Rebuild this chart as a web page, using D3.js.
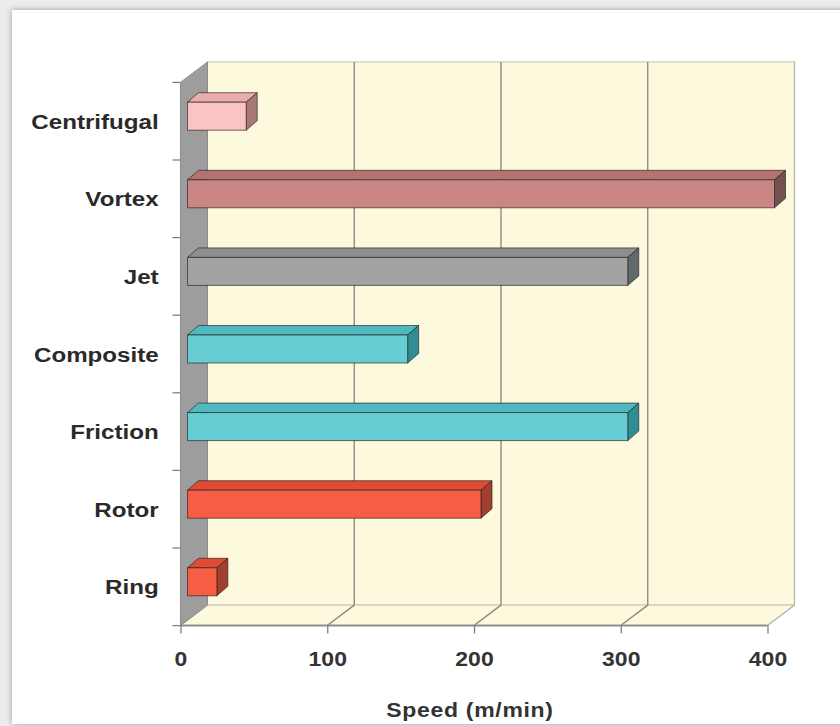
<!DOCTYPE html>
<html>
<head>
<meta charset="utf-8">
<script src="https://cdn.jsdelivr.net/npm/d3@7"></script>
<style>
  html, body { margin: 0; padding: 0; background: #ececec; }
  svg { display: block; }
</style>
</head>
<body>
<svg id="chart" width="840" height="726"></svg>
<script>
// Spinning technologies and their delivery speeds
const categories = ["Centrifugal", "Vortex", "Jet", "Composite", "Friction", "Rotor", "Ring"];
const speeds = [40, 400, 300, 150, 300, 200, 20];
const xTicks = [0, 100, 200, 300, 400];
const axisTitle = "Speed (m/min)";

// front / top / side shading for each bar
const frontColors = ["#f9c4c1", "#c98683", "#a3a3a3", "#66cdd4", "#66cdd4", "#f55d44", "#f55d44"];
const topColors   = ["#e9adab", "#b37371", "#8e8e8e", "#4fb9c1", "#4fb9c1", "#df4b34", "#df4b34"];
const sideColors  = ["#a77a79", "#74504f", "#5f6a6b", "#2f8d94", "#2f8d94", "#a23f2f", "#a23f2f"];

const svg = d3.select("#chart");

// panel with soft drop shadow
const defs = svg.append("defs");
const sh = defs.append("filter").attr("id", "shadow")
  .attr("x", "-5%").attr("y", "-5%").attr("width", "110%").attr("height", "110%");
sh.append("feGaussianBlur").attr("in", "SourceAlpha").attr("stdDeviation", 3).attr("result", "b");
sh.append("feOffset").attr("in", "b").attr("dx", 0).attr("dy", 0).attr("result", "o");
sh.append("feComponentTransfer").attr("in", "o").attr("result", "s")
  .append("feFuncA").attr("type", "linear").attr("slope", 0.35);
const mg = sh.append("feMerge");
mg.append("feMergeNode").attr("in", "s");
mg.append("feMergeNode").attr("in", "SourceGraphic");

svg.append("rect").attr("x", 12).attr("y", 10).attr("width", 860).attr("height", 714)
  .attr("fill", "#ffffff").attr("filter", "url(#shadow)");

// scales (front plane)
const x = d3.scaleLinear().domain([0, 400]).range([180.5, 767.5]);
const y = d3.scaleBand().domain(categories).range([82.4, 625.6]).padding(0);
const depth = { dx: 27, dy: -20.5 };       // full depth of the box
const faceOff = { dx: 7, dy: -5 };          // bar front face offset from front plane
const barDepth = { dx: 11, dy: -9.5 };      // bar thickness in depth
const barH = 28;

const y0 = y.range()[0], y1 = y.range()[1];
const xL = x(0), xR = x(400);

const wallFill = "#fdf9dc";
const g = svg.append("g");

// back wall
g.append("rect")
  .attr("x", xL + depth.dx).attr("y", y0 + depth.dy)
  .attr("width", xR - xL).attr("height", y1 - y0)
  .attr("fill", wallFill).attr("stroke", "#c4c4bc").attr("stroke-width", 1);

// floor
g.append("path")
  .attr("d", `M${xL},${y1} L${xR},${y1} L${xR + depth.dx},${y1 + depth.dy} L${xL + depth.dx},${y1 + depth.dy} Z`)
  .attr("fill", wallFill).attr("stroke", "#c4c4bc").attr("stroke-width", 1);

// left wall
g.append("path")
  .attr("d", `M${xL},${y0} L${xL + depth.dx},${y0 + depth.dy} L${xL + depth.dx},${y1 + depth.dy} L${xL},${y1} Z`)
  .attr("fill", "#9d9d9d").attr("stroke", "#8a8a8a").attr("stroke-width", 1);

// grid lines on back wall and floor
xTicks.slice(1).forEach(t => {
  const xb = x(t) + depth.dx;
  g.append("path")
    .attr("d", `M${xb},${y0 + depth.dy} L${xb},${y1 + depth.dy} L${x(t)},${y1}`)
    .attr("fill", "none")
    .attr("stroke", t === 400 ? "#b8b8b0" : "#858580")
    .attr("stroke-width", 1.3);
});

// floor front edge
g.append("line")
  .attr("x1", xL).attr("x2", xR).attr("y1", y1).attr("y2", y1)
  .attr("stroke", "#8f8f8a").attr("stroke-width", 2);

// left axis boundary ticks
const bounds = categories.map(c => y(c)).concat([y1]);
g.selectAll(".ytick").data(bounds).join("line")
  .attr("x1", xL - 8).attr("x2", xL).attr("y1", d => d).attr("y2", d => d)
  .attr("stroke", "#808080").attr("stroke-width", 1.3);

// bars
const bars = g.append("g").selectAll("g").data(categories).join("g");
bars.each(function (c, i) {
  const v = speeds[i];
  const xa = x(0) + faceOff.dx;
  const xb = x(v) + faceOff.dx;
  const yt = y(c) + y.bandwidth() / 2 - barH / 2 + faceOff.dy;
  const yb = yt + barH;
  const bx = barDepth.dx, by = barDepth.dy;
  const sel = d3.select(this);
  const stroke = "rgba(40,30,30,0.65)";
  sel.append("path")
    .attr("d", `M${xa},${yt} L${xb},${yt} L${xb + bx},${yt + by} L${xa + bx},${yt + by} Z`)
    .attr("fill", topColors[i]).attr("stroke", stroke).attr("stroke-width", 1);
  sel.append("path")
    .attr("d", `M${xb},${yt} L${xb + bx},${yt + by} L${xb + bx},${yb + by} L${xb},${yb} Z`)
    .attr("fill", sideColors[i]).attr("stroke", stroke).attr("stroke-width", 1);
  sel.append("rect")
    .attr("x", xa).attr("y", yt).attr("width", xb - xa).attr("height", barH)
    .attr("fill", frontColors[i]).attr("stroke", stroke).attr("stroke-width", 1);
});

const font = "'Liberation Sans', Arial, Helvetica, sans-serif";

// x axis
const xAxis = g.append("g").attr("transform", `translate(0,${y1})`)
  .call(d3.axisBottom(x).tickValues(xTicks).tickSize(8).tickFormat(d3.format("d")));
xAxis.select(".domain").remove();
xAxis.selectAll(".tick line").attr("stroke", "#808080").attr("stroke-width", 1.3);
xAxis.selectAll(".tick text")
  .attr("y", 40).attr("dy", 0)
  .attr("transform", "scale(1.15,1)")
  .attr("fill", "#333")
  .style("font-family", font).style("font-size", "20px").style("font-weight", "bold");

// category labels
const yAxis = g.append("g").attr("transform", `translate(${xL},0)`)
  .call(d3.axisLeft(y).tickSize(0));
yAxis.select(".domain").remove();
yAxis.selectAll(".tick text")
  .attr("x", -19).attr("dy", "0.36em")
  .attr("transform", "scale(1.15,1)")
  .attr("fill", "#2a2a2a")
  .style("font-family", font).style("font-size", "21px").style("font-weight", "bold");

// axis title
g.append("text")
  .attr("transform", `translate(470,717) scale(1.15,1)`)
  .attr("text-anchor", "middle")
  .attr("fill", "#333")
  .style("font-family", font).style("font-size", "20px").style("font-weight", "bold")
  .style("letter-spacing", "0.6px")
  .text(axisTitle);
</script>
</body>
</html>
